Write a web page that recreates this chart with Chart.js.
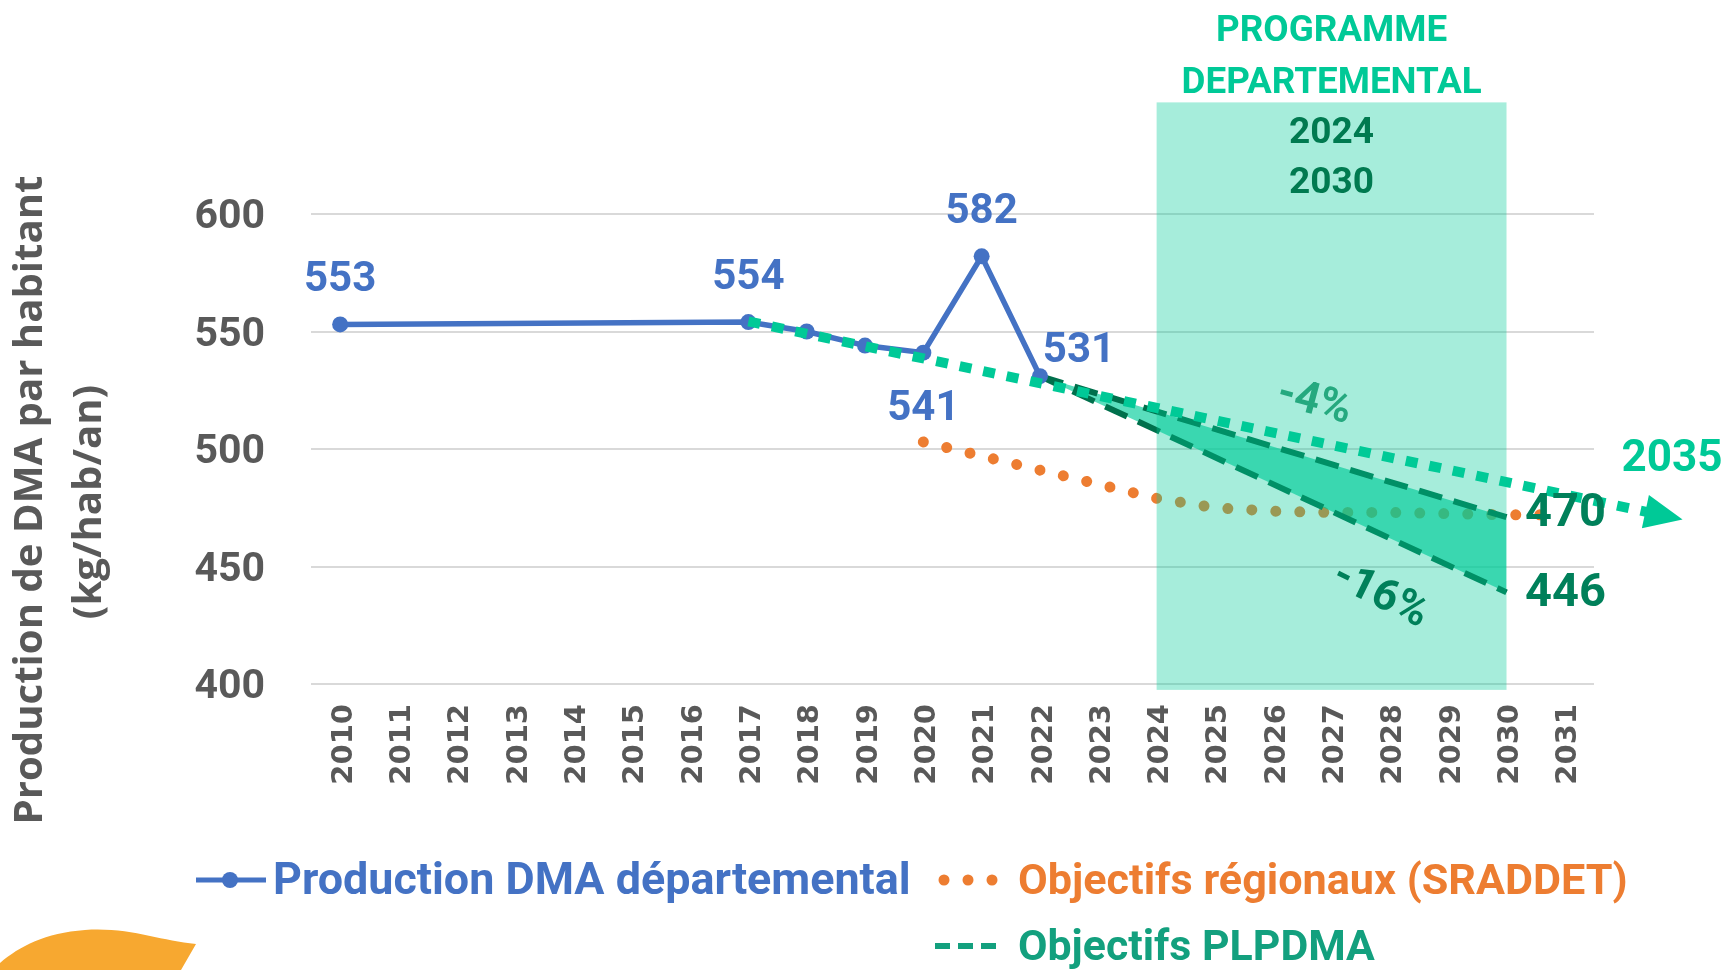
<!DOCTYPE html>
<html>
<head>
<meta charset="utf-8">
<script src="https://cdn.jsdelivr.net/npm/chart.js@4/dist/chart.umd.min.js"></script>
<style>
  html, body { margin: 0; padding: 0; background: #ffffff; }
  canvas { display: block; }
</style>
</head>
<body>
<canvas id="c" width="1725" height="970"></canvas>
<script>
// ---------- DATA ----------
const years = [2010, 2011, 2012, 2013, 2014, 2015, 2016, 2017, 2018, 2019, 2020,
               2021, 2022, 2023, 2024, 2025, 2026, 2027, 2028, 2029, 2030, 2031];
const yTicks = [400, 450, 500, 550, 600];

const prodYears  = [2010, 2017, 2018, 2019, 2020, 2021, 2022];
const prodValues = [553, 554, 550, 544, 541, 582, 531];
const prodLabelled = [2010, 2017, 2020, 2021, 2022];

const trendYears  = [2017, 2032.7];
const trendValues = [554.3, 471.7];
const trendLabel  = '2035';

const sraddetYears  = [2020, 2021, 2022, 2023, 2024, 2025, 2026, 2027, 2028, 2029, 2030, 2030.6];
const sraddetValues = [503, 497, 491, 485, 479, 475, 473.5, 473, 473, 472.5, 472, 472];

const plpdmaYears = [2022, 2030];
const plpdmaHigh  = [531, 471];
const plpdmaLow   = [531, 439];
const plpdmaLabels = ['470', '446'];
const plpdmaPct    = ['-4%', '-16%'];

const bandYears  = [2024, 2030];
const bandValues = [397.5, 647.5];
const bandTitle  = ['PROGRAMME', 'DEPARTEMENTAL'];
const bandPeriod = ['2024', '2030'];

const yTitle = ['Production de DMA par habitant', '(kg/hab/an)'];
const legendNames = ['Production DMA départemental', 'Objectifs régionaux (SRADDET)', 'Objectifs PLPDMA'];

// ---------- STYLE ----------
const BLUE = '#4472C4', ORANGE = '#ED7D31', TEAL = '#00C997', DKGREEN = '#00704C';
const LBLGREEN = '#00805A', LEGGREEN = '#13A07E', GREY = '#595959';
const NUMFONT = 'Roboto';

const pts = (xs, ys) => xs.map((x, i) => ({x: x, y: ys[i]}));

function fitSize(ctx, text, weight, family, target) {
  ctx.font = weight + ' 100px ' + family;
  return 100 * target / ctx.measureText(text).width;
}
function txt(ctx, s, x, y, font, color, align, rot) {
  ctx.save();
  ctx.translate(x, y);
  if (rot) ctx.rotate(rot * Math.PI / 180);
  ctx.font = font;
  ctx.fillStyle = color;
  ctx.textAlign = align || 'center';
  ctx.textBaseline = 'middle';
  ctx.fillText(s, 0, 0);
  ctx.restore();
}

const annot = {
  id: 'annot',
  afterDatasetsDraw(chart) {
    const {ctx, scales: {x, y}} = chart;
    const x0 = x.getPixelForValue(bandYears[0]), x1 = x.getPixelForValue(bandYears[1]);
    const yT = y.getPixelForValue(bandValues[1]), yB = y.getPixelForValue(bandValues[0]);
    ctx.save();
    ctx.fillStyle = 'rgba(0,204,153,0.35)';
    ctx.fillRect(x0, yT, x1 - x0, yB - yT);
    ctx.restore();
  },
  afterDraw(chart) {
    const {ctx, scales: {x, y}} = chart;
    const X = v => x.getPixelForValue(v), Y = v => y.getPixelForValue(v);

    // arrow head at the end of the 2035 trajectory
    const n = trendYears.length - 1;
    const pA = { x: X(trendYears[0]), y: Y(trendValues[0]) };
    const pB = { x: X(trendYears[n]), y: Y(trendValues[n]) };
    const ang = Math.atan2(pB.y - pA.y, pB.x - pA.x);
    ctx.save();
    ctx.translate(pB.x, pB.y);
    ctx.rotate(ang);
    ctx.fillStyle = TEAL;
    ctx.beginPath();
    ctx.moveTo(19, 0); ctx.lineTo(-19, -17); ctx.lineTo(-19, 17); ctx.closePath();
    ctx.fill();
    ctx.restore();

    // band titles
    const bx = (X(bandYears[0]) + X(bandYears[1])) / 2;
    const bt = Y(bandValues[1]);
    const s1 = fitSize(ctx, bandTitle[1], 'bold', NUMFONT, 300);
    txt(ctx, bandTitle[0], bx, bt - 71, 'bold ' + s1 + 'px ' + NUMFONT, TEAL);
    txt(ctx, bandTitle[1], bx, bt - 19, 'bold ' + s1 + 'px ' + NUMFONT, TEAL);
    txt(ctx, bandPeriod[0], bx, bt + 31, 'bold 37px ' + NUMFONT, '#007A50');
    txt(ctx, bandPeriod[1], bx, bt + 81, 'bold 37px ' + NUMFONT, '#007A50');

    // production labels
    const f42 = 'bold 42px ' + NUMFONT;
    prodYears.forEach((yr, i) => {
      if (!prodLabelled.includes(yr)) return;
      const px = X(yr), py = Y(prodValues[i]);
      let dx = 0, dy = -44;
      if (yr === 2020) { dx = 0; dy = 57; }
      if (yr === 2022) { dx = 39; dy = -25; }
      txt(ctx, String(prodValues[i]), px + dx, py + dy, f42, BLUE);
    });

    // PLPDMA end labels
    const ex = X(plpdmaYears[1]);
    txt(ctx, plpdmaLabels[0], ex + 59, Y(plpdmaHigh[1]) - 3, 'bold 47px ' + NUMFONT, LBLGREEN);
    txt(ctx, plpdmaLabels[1], ex + 59, Y(plpdmaLow[1]) + 2, 'bold 47px ' + NUMFONT, LBLGREEN);
    txt(ctx, plpdmaPct[0], 1314, 403, 'bold 44px ' + NUMFONT, '#25A97F', 'center', 15);
    txt(ctx, plpdmaPct[1], 1380, 596, 'bold 44px ' + NUMFONT, LBLGREEN, 'center', 26);

    // 2035 label
    txt(ctx, trendLabel, pB.x + 8, pB.y - 56, 'bold 44px ' + NUMFONT, TEAL);

    // y title
    const ts = fitSize(ctx, yTitle[0], 'bold', "'Open Sans'", 649);
    txt(ctx, yTitle[0], 31, 500, 'bold ' + ts + "px 'Open Sans'", GREY, 'center', -90);
    txt(ctx, yTitle[1], 90, 502, 'bold ' + ts + "px 'Open Sans'", GREY, 'center', -90);

    // legend
    ctx.save();
    ctx.strokeStyle = BLUE; ctx.lineWidth = 5;
    ctx.beginPath(); ctx.moveTo(196, 880); ctx.lineTo(266, 880); ctx.stroke();
    ctx.fillStyle = BLUE; ctx.beginPath(); ctx.arc(230, 880, 8, 0, Math.PI * 2); ctx.fill();
    ctx.fillStyle = ORANGE;
    [944, 968, 992].forEach(cx => { ctx.beginPath(); ctx.arc(cx, 880, 5.5, 0, Math.PI * 2); ctx.fill(); });
    ctx.fillStyle = LEGGREEN;
    [935, 958, 981].forEach(cx => ctx.fillRect(cx, 943, 15, 6));
    ctx.restore();
    const lw = [638, 610, 357];
    const lx = [273, 1018, 1018];
    const ly = [883, 883, 949];
    const lc = [BLUE, ORANGE, LEGGREEN];
    legendNames.forEach((name, i) => {
      const sz = fitSize(ctx, name, 'bold', NUMFONT, lw[i]);
      txt(ctx, name, lx[i], ly[i], 'bold ' + sz + 'px ' + NUMFONT, lc[i], 'left');
    });

    // decorative blob
    ctx.save();
    ctx.fillStyle = '#F7A830';
    ctx.beginPath();
    ctx.moveTo(0, 970); ctx.lineTo(0, 963);
    ctx.bezierCurveTo(20, 946, 45, 933, 85, 930);
    ctx.bezierCurveTo(130, 927, 160, 941, 196, 944);
    ctx.lineTo(181, 970); ctx.closePath(); ctx.fill();
    ctx.restore();
  }
};

new Chart(document.getElementById('c'), {
  type: 'line',
  data: {
    datasets: [
      { label: 'Trajectoire 2035', data: pts(trendYears, trendValues), borderColor: TEAL, borderWidth: 10,
        borderDash: [12, 12], pointRadius: 0, clip: false, fill: false },
      { label: legendNames[0], data: pts(prodYears, prodValues), borderColor: BLUE, borderWidth: 5.5,
        pointRadius: 8, pointBackgroundColor: BLUE, pointBorderWidth: 0, fill: false },
      { label: 'PLPDMA -4%', data: pts(plpdmaYears, plpdmaHigh), borderColor: DKGREEN, borderWidth: 6,
        borderDash: [24, 12], pointRadius: 0, fill: false },
      { label: legendNames[2], data: pts(plpdmaYears, plpdmaLow), borderColor: DKGREEN, borderWidth: 6,
        borderDash: [24, 12], pointRadius: 0, fill: '-1', backgroundColor: 'rgba(0,204,153,0.65)' },
      { label: legendNames[1], data: pts(sraddetYears, sraddetValues), borderColor: ORANGE, borderWidth: 11,
        borderDash: [0.001, 24], borderCapStyle: 'round', pointRadius: 0, fill: false }
    ]
  },
  options: {
    responsive: false,
    devicePixelRatio: 1,
    animation: false,
    events: [],
    layout: { padding: { top: 214, right: 131, bottom: 0, left: 0 } },
    plugins: { legend: { display: false }, tooltip: { enabled: false } },
    elements: { line: { tension: 0 } },
    scales: {
      x: {
        type: 'linear', min: 2009.5, max: 2031.5,
        grid: { display: false }, border: { display: false },
        afterBuildTicks: s => { s.ticks = years.map(v => ({ value: v })); },
        afterFit: s => { s.height = 286; },
        ticks: { autoSkip: false, minRotation: 90, maxRotation: 90, padding: 12, labelOffset: 4, color: GREY,
                 font: { family: 'DejaVu Sans', weight: 'bold', size: 29 }, callback: v => String(v) }
      },
      y: {
        min: 400, max: 600,
        afterBuildTicks: s => { s.ticks = yTicks.map(v => ({ value: v })); },
        afterFit: s => { s.width = 311; },
        grid: { color: '#D9D9D9', lineWidth: 2, drawTicks: false },
        border: { display: false },
        ticks: { padding: 46, labelOffset: 4, color: GREY, font: { family: NUMFONT, weight: 'bold', size: 41 } }
      }
    }
  },
  plugins: [annot]
});
</script>
</body>
</html>
